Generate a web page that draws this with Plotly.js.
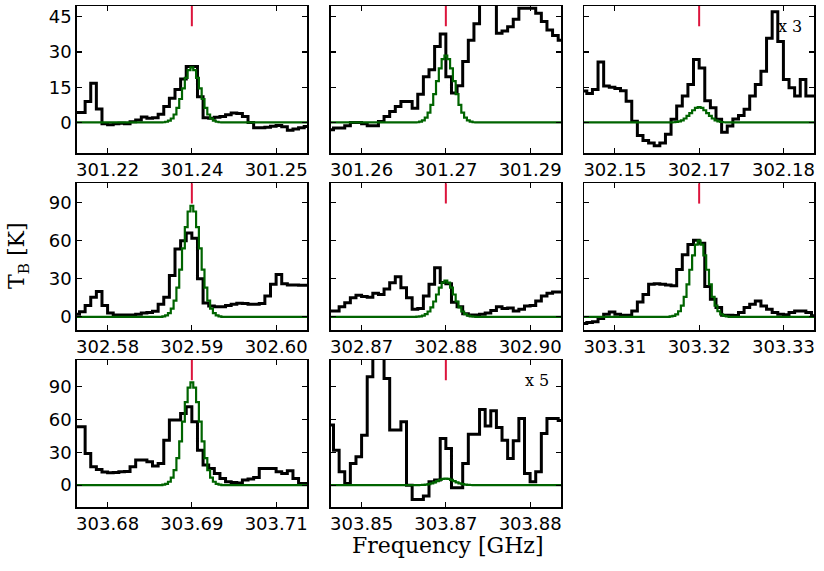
<!DOCTYPE html>
<html>
<head>
<meta charset="utf-8">
<script src="https://cdn.plot.ly/plotly-3.0.1.min.js"></script>
<style>
html,body{margin:0;padding:0;background:#fff;}
#chart{width:824px;height:571px;}
</style>
</head>
<body>
<div id="chart"></div>
<script>
// Channel left edges, offset from line centre in MHz (step 'hv')
const chanMHz = [-21,-20,-19,-18,-17,-16,-15,-14,-13,-12,-11,-10,-9,-8,-7,-6,-5,-4,-3,-2,-1,0,1,2,3,4,5,6,7,8,9,10,11,12,13,14,15,16,17,18,19,20,21];

// Observed spectra (K)
const obs1 = [4.2,4.2,8.9,16.7,5.7,-0.5,-1,-0.5,-0.3,-0.5,0.3,1,2.3,1.8,2,3.5,6.8,10.3,14,18.5,23.8,23.8,11,2,1.8,2.2,2.5,3.3,4,3.8,2.5,0,-2.3,-2.2,-2,-1.6,-1.3,-1.8,-3.3,-2.8,-2.3,-1.7,-1.7];
const obs2 = [-3.1,-2.4,-2.4,-1.4,0,0,-0.5,-1.4,-1.4,0.4,2.5,4.7,6.8,8.9,8.9,6.1,12,19.5,22.4,32.3,37.7,19.5,12.5,15.6,26,35,42,55,60,53,38,39,40.8,44,48.6,48.6,48.6,46.5,43,39.4,37,35,35];
const obs3 = [13.4,12.3,14,25.8,15.5,15,14.5,13.5,9,0.5,-5.6,-7.7,-8.7,-9.9,-8.7,-5,1.4,7,11.3,16.2,26.8,23.2,9.2,6.3,1.4,-4.2,-1.5,1.5,3,5.6,11.3,16.2,21.8,35.9,47.2,34.5,18.3,14.8,11.3,18.3,11.3,11.3,11.3];
const obs4 = [2,4,9,15.5,20,9,3,1.5,1.5,1.5,1.5,2,3,3.5,4.5,9.9,15.5,32.6,53.5,60,66,62,30,11,8.6,8,8,9,9.9,10.7,10.5,10,10,10.5,16.4,25.6,33.4,26,25,25,24.8,24.8,24.8];
const obs5 = [4.7,4.7,8,11.2,15,17,16,15.5,18.5,17.7,22,26.9,31.6,23,15,6,6.5,16.4,25.6,38.6,27,26,11.5,8,2.5,1.5,1.5,2,3,5,8,6.5,7,4.7,6,8.6,9,12.5,16.4,18.5,19.5,19.5,19.5];
const obs6 = [-5.2,-4.5,-3.9,-1.3,2,3.9,2,1.3,1.3,4.7,11.7,17.7,25.6,26,25.6,25,24.5,37.3,49,56.9,60.3,58,24,13.8,7.3,1.3,1.3,1,3.4,7.3,9.9,12.5,8.6,6,3.4,2,1.6,3.4,4.7,4.7,3.4,0.8,0.8];
const obs7 = [53.4,53.4,29,16.8,14.3,12,11.3,11.5,12.2,12.5,16.8,22.9,22.9,21.3,17.4,19.8,41,59.5,59.5,65.5,71.6,57.9,32,18.3,15.2,10.7,6,3,2.5,2,4.6,5.5,7,15.2,15.2,15.2,12.2,10.7,13.1,6,1.5,1.5,1.5];
const obs8 = [54.9,32,12.2,1.5,19.8,25.9,45.7,99,125,130,97.6,50.3,50.3,57.9,0,-13.1,-13.1,-10,3,4.6,42.7,33.5,-2.4,-2.4,19.8,46.6,46.6,69.2,54,68,52.7,41,24.4,40.5,61,10.7,3,12.2,47.3,61,61,59,59];

// Model (green) profiles read at these offsets (MHz)
const modelMHz = [-21,-5.5,-5,-4.5,-4,-3.5,-3,-2.5,-2,-1.5,-1,-0.5,0,0.5,1,1.5,2,2.5,3,3.5,4,4.5,5,5.5,21];
const model1 = [0,0,0.1,0.3,0.8,1.7,3.4,6.2,10,14.5,19,22.3,23.5,22.3,19,14.5,10,6.2,3.4,1.7,0.8,0.3,0.1,0,0];
const model2 = [0,0,0.1,0.4,0.9,2.1,4.2,7.5,12.1,17.6,23,27,28.5,27,23,17.6,12.1,7.5,4.2,2.1,0.9,0.4,0.1,0,0];
const model3 = [0,0,0,0.1,0.2,0.5,0.9,1.7,2.8,4,5.2,6.2,6.5,6.2,5.2,4,2.8,1.7,0.9,0.5,0.2,0.1,0,0,0];
const model4 = [0,0,0.4,1.1,2.9,6.4,12.8,23,37.2,54,70.6,83,87.5,83,70.6,54,37.2,23,12.8,6.4,2.9,1.1,0.4,0,0];
const model5 = [0,0,0.1,0.4,0.9,2.1,4.2,7.5,12.1,17.6,23,27,28.5,27,23,17.6,12.1,7.5,4.2,2.1,0.9,0.4,0.1,0,0];
const model6 = [0,0,0.3,0.8,2,4.4,8.8,15.8,25.5,37.1,48.4,56.9,60,56.9,48.4,37.1,25.5,15.8,8.8,4.4,2,0.8,0.3,0,0];
const model7 = [0,0,0.5,1.2,3.1,6.9,13.7,24.7,40,58.1,75.9,89.1,94,89.1,75.9,58.1,40,24.7,13.7,6.9,3.1,1.2,0.5,0,0];
const model8 = [0,0,0,0.1,0.2,0.4,0.9,1.6,2.6,3.7,4.8,5.7,6,5.7,4.8,3.7,2.6,1.6,0.9,0.4,0.2,0.1,0,0,0];

// Tick labels (GHz) at offsets -15, 0, +15 MHz
const tickOffsets = [-15, 0, 15];
const ticks1 = ['301.22','301.24','301.25'];
const ticks2 = ['301.26','301.27','301.29'];
const ticks3 = ['302.15','302.17','302.18'];
const ticks4 = ['302.58','302.59','302.60'];
const ticks5 = ['302.87','302.88','302.90'];
const ticks6 = ['303.31','303.32','303.33'];
const ticks7 = ['303.68','303.69','303.71'];
const ticks8 = ['303.85','303.87','303.88'];

const yTicksRow1 = [0, 15, 30, 45];
const yTicksRow23 = [0, 30, 60, 90];
const scaleLabels = {3: 'x 3', 8: 'x 5'};

const obsAll = [obs1,obs2,obs3,obs4,obs5,obs6,obs7,obs8];
const modelAll = [model1,model2,model3,model4,model5,model6,model7,model8];
const ticksAll = [ticks1,ticks2,ticks3,ticks4,ticks5,ticks6,ticks7,ticks8];

const W = 824, H = 571;
const colLeft = [76.7, 330.7, 584];
const panelW = 230.3;
const rowTop = [6, 183.3, 360];
const panelH = 147;
const yRanges = [[-13, 49.6], [-10.6, 105.2], [-20, 114.4]];
const xRange = [-20.5, 20.5];

const data = [];
const layout = {
  width: W, height: H,
  margin: {l:0, r:0, t:0, b:0},
  paper_bgcolor: '#fff', plot_bgcolor: '#fff',
  showlegend: false,
  shapes: [], annotations: []
};

const tickFont = {family: 'DejaVu Sans', size: 18, color: '#000'};

for (let i = 0; i < 8; i++) {
  const row = Math.floor(i / 3), col = i % 3;
  const n = i + 1;
  const xa = n === 1 ? 'x' : 'x' + n;
  const ya = n === 1 ? 'y' : 'y' + n;
  const xKey = n === 1 ? 'xaxis' : 'xaxis' + n;
  const yKey = n === 1 ? 'yaxis' : 'yaxis' + n;
  const x0 = colLeft[col], y0 = rowTop[row];
  layout[xKey] = {
    domain: [x0 / W, (x0 + panelW) / W],
    range: xRange, anchor: ya,
    tickmode: 'array', tickvals: tickOffsets, ticktext: ticksAll[i],
    ticks: 'inside', ticklen: 5, tickwidth: 1.2, tickcolor: '#000',
    showline: true, linecolor: '#000', linewidth: 1.5, mirror: 'allticks',
    showgrid: false, zeroline: false, tickfont: tickFont, fixedrange: true
  };
  layout[yKey] = {
    domain: [1 - (y0 + panelH) / H, 1 - y0 / H],
    range: yRanges[row], anchor: xa,
    tickmode: 'array', tickvals: row === 0 ? yTicksRow1 : yTicksRow23,
    ticks: 'inside', ticklen: 5, tickwidth: 1.2, tickcolor: '#000',
    showline: true, linecolor: '#000', linewidth: 1.5, mirror: 'allticks',
    showgrid: false, zeroline: false, tickfont: tickFont,
    showticklabels: col === 0, fixedrange: true
  };
  data.push({
    type: 'scatter', mode: 'lines', x: chanMHz, y: obsAll[i], xaxis: xa, yaxis: ya,
    line: {color: '#000', width: 3, shape: 'hv'}, hoverinfo: 'skip'
  });
  data.push({
    type: 'scatter', mode: 'lines', x: modelMHz, y: modelAll[i], xaxis: xa, yaxis: ya,
    line: {color: '#006400', width: 2.2, shape: 'hvh'}, hoverinfo: 'skip'
  });
  layout.shapes.push({
    type: 'line', xref: xa, yref: ya + ' domain', x0: 0, x1: 0, y0: 0.862, y1: 1,
    line: {color: '#dc143c', width: 2}
  });
  if (scaleLabels[n]) {
    layout.annotations.push({
      xref: xa + ' domain', yref: ya + ' domain', x: 0.955, y: 0.86,
      xanchor: 'right', yanchor: 'middle', showarrow: false,
      text: scaleLabels[n], font: {family: 'DejaVu Serif', size: 16, color: '#000'}
    });
  }
}

layout.annotations.push({
  xref: 'paper', yref: 'paper', x: 448 / W, y: 1 - 545 / H,
  xanchor: 'center', yanchor: 'middle', showarrow: false,
  text: 'Frequency [GHz]', font: {family: 'DejaVu Serif', size: 22, color: '#000'}
});
layout.annotations.push({
  xref: 'paper', yref: 'paper', x: 18 / W, y: 1 - 256 / H,
  xanchor: 'center', yanchor: 'middle', showarrow: false, textangle: -90,
  text: 'T<sub>B</sub> [K]', font: {family: 'DejaVu Serif', size: 22, color: '#000'}
});

Plotly.newPlot('chart', data, layout, {displayModeBar: false, staticPlot: true});
</script>
</body>
</html>
